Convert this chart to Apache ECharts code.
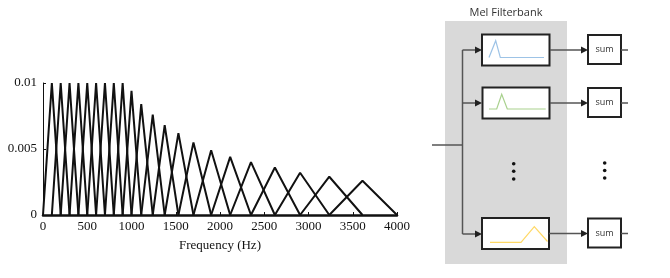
<!DOCTYPE html>
<html>
<head>
<meta charset="utf-8">
<script src="https://cdn.jsdelivr.net/npm/echarts@6/dist/echarts.min.js"></script>
<style>html,body{margin:0;padding:0;background:#fff}#c{width:670px;height:278px}</style>
</head>
<body>
<div id="c"></div>
<script>
// Filter band edges (Hz): each filter i spans edges[i]..edges[i+2], peak at edges[i+1]
const edges = [0, 100, 200, 300, 400, 500, 600, 700, 800, 900, 1000, 1110, 1240, 1375, 1530, 1700, 1900, 2115, 2350, 2620, 2905, 3235, 3610, 4000];
// Peak heights of each filter
const peaks = [0.01, 0.01, 0.01, 0.01, 0.01, 0.01, 0.01, 0.01, 0.01, 0.0094, 0.0084, 0.0076, 0.0068, 0.0062, 0.0055, 0.0049, 0.0044, 0.0040, 0.0036, 0.0032, 0.0029, 0.0026];
const xTicks = [0, 500, 1000, 1500, 2000, 2500, 3000, 3500, 4000];
const yTicks = [0, 0.005, 0.01];
const diagramTitle = 'Mel Filterbank';
const sumLabel = 'sum';

const series = peaks.map((h, i) => ({
  type: 'line',
  data: [[edges[i], 0], [edges[i + 1], h], [edges[i + 2], 0]],
  symbol: 'none',
  lineStyle: { color: '#111', width: 2 },
  silent: true,
  animation: false
}));

const chart = echarts.init(document.getElementById('c'));
const dark = '#555';
const arrow = (x, y) => ({ type: 'polygon', shape: { points: [[x - 7, y - 3.5], [x, y], [x - 7, y + 3.5]] }, style: { fill: '#222' } });
const hline = (x1, x2, y) => ({ type: 'line', shape: { x1, y1: y, x2, y2: y }, style: { stroke: dark, lineWidth: 1.5 } });
const box = (x, y, w, h) => ({ type: 'rect', shape: { x, y, width: w, height: h }, style: { fill: '#fff', stroke: '#222', lineWidth: 2 } });
const dots = (x, ys) => ys.map(y => ({ type: 'circle', shape: { cx: x, cy: y, r: 1.8 }, style: { fill: '#111' } }));
const sumBox = (y) => [box(588, y, 33, 29), { type: 'text', x: 604.5, y: y + 14.5, style: { text: sumLabel, fill: '#333', font: '9px "Open Sans", sans-serif', align: 'center', verticalAlign: 'middle' } }];

const graphics = [
  { type: 'rect', shape: { x: 445, y: 21, width: 122, height: 243 }, style: { fill: '#d9d9d9' } },
  { type: 'text', x: 506, y: 13, style: { text: diagramTitle, fill: '#333', font: '11px "Open Sans", sans-serif', align: 'center', verticalAlign: 'middle' } },
  // input and trunk
  hline(432, 462.5, 145),
  { type: 'line', shape: { x1: 462.5, y1: 50, x2: 462.5, y2: 234 }, style: { stroke: dark, lineWidth: 1.5 } },
  hline(462.5, 478, 50), arrow(482, 50),
  hline(462.5, 478, 103), arrow(482, 103),
  hline(462.5, 478, 234), arrow(482, 234),
  // filter boxes
  box(482, 34.5, 67.5, 31),
  box(482.5, 87.5, 67, 31),
  box(482, 218, 67, 31),
  { type: 'polyline', shape: { points: [[489, 57.5], [495.7, 40.7], [500.3, 57.5], [544, 57.5]] }, style: { stroke: '#9dc3e6', lineWidth: 1.2, fill: null } },
  { type: 'polyline', shape: { points: [[489, 109], [496.7, 109], [501.7, 94.3], [507.3, 109], [545.7, 109]] }, style: { stroke: '#a9d18e', lineWidth: 1.2, fill: null } },
  { type: 'polyline', shape: { points: [[490, 242.3], [521, 242.3], [534.3, 226.7], [547.5, 241.5]] }, style: { stroke: '#ffd966', lineWidth: 1.2, fill: null } },
  // to sums
  hline(550, 584, 50), arrow(588, 50),
  hline(550, 584, 103), arrow(588, 103),
  hline(549, 584, 233.5), arrow(588, 233.5),
  ...sumBox(35), ...sumBox(88), ...sumBox(218.5),
  hline(621, 628, 50), hline(621, 628, 103), hline(621, 628, 233.5),
  ...dots(513.7, [163.7, 171.3, 179]),
  ...dots(604.7, [163, 170.5, 178])
];

const serif = '"Liberation Serif", "Times New Roman", serif';
chart.setOption({
  animation: false,
  textStyle: { fontFamily: serif },
  grid: { left: 43, right: 273, top: 83, bottom: 63 },
  xAxis: {
    type: 'value', min: xTicks[0], max: xTicks[xTicks.length - 1], interval: 500,
    name: 'Frequency (Hz)', nameLocation: 'middle', nameGap: 24,
    nameTextStyle: { fontFamily: serif, fontSize: 13, color: '#111' },
    axisLine: { lineStyle: { color: '#111', width: 2.5 } },
    axisTick: { show: true, inside: true, length: 3, lineStyle: { color: '#111' } },
    axisLabel: { fontFamily: serif, fontSize: 13, color: '#111', margin: 5, formatter: v => String(v) },
    splitLine: { show: false }
  },
  yAxis: {
    type: 'value', min: yTicks[0], max: yTicks[yTicks.length - 1], interval: 0.005,
    axisLine: { show: true, lineStyle: { color: '#111', width: 1 } },
    axisTick: { show: true, inside: true, length: 3, lineStyle: { color: '#111' } },
    axisLabel: { fontFamily: serif, fontSize: 13, color: '#111', margin: 6, formatter: v => String(v) },
    splitLine: { show: false }
  },
  series,
  graphic: graphics
});
</script>
</body>
</html>
